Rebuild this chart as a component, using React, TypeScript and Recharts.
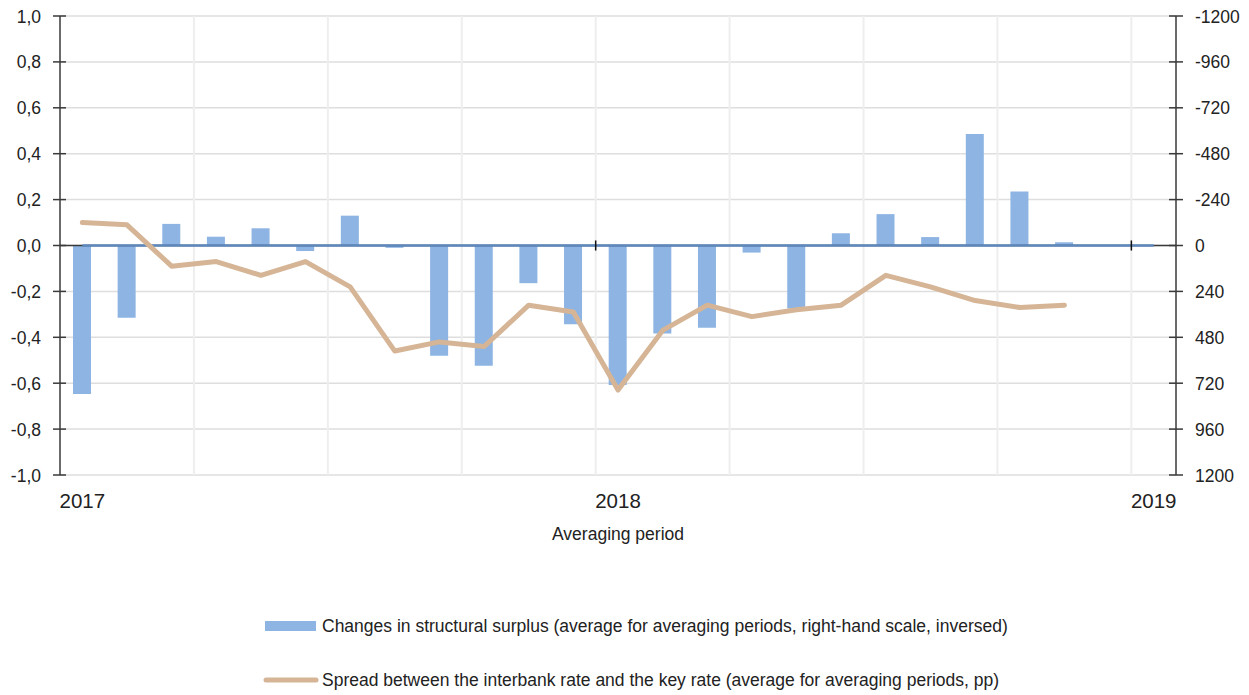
import React from "react";
import {
  ComposedChart, Bar, Line, XAxis, YAxis, CartesianGrid,
  ReferenceLine, Legend, Label,
} from "recharts";

const FONT = "'Liberation Sans', Arial, sans-serif";
const FS = 17.5;
const TEXT = "#222222";
const AXIS = "#3a3a3a";
const BAR_COLOR = "#8db4e2";
const LINE_COLOR = "#d5b596";
const ZERO_COLOR = "#5e89bd";

// averaging periods, 2017-01 .. 2019-01
const periods = [
  "2017-01", "2017-02", "2017-03", "2017-04", "2017-05", "2017-06",
  "2017-07", "2017-08", "2017-09", "2017-10", "2017-11", "2017-12",
  "2018-01", "2018-02", "2018-03", "2018-04", "2018-05", "2018-06",
  "2018-07", "2018-08", "2018-09", "2018-10", "2018-11", "2018-12",
  "2019-01",
];

// changes in structural surplus (right-hand scale, inversed)
const surplusChange = [
  776, 378, -113, -46, -90, 29, -156, 12, 576, 629, 197, 412,
  730, 460, 430, 37, 329, -64, -164, -44, -583, -283, -17, null, null,
];

// spread between interbank rate and key rate, pp (left scale)
const spread = [
  0.10, 0.09, -0.09, -0.07, -0.13, -0.07, -0.18, -0.46, -0.42, -0.44, -0.26, -0.29,
  -0.63, -0.37, -0.26, -0.31, -0.28, -0.26, -0.13, -0.18, -0.24, -0.27, -0.26, null, null,
];

const leftTicks = [-1, -0.8, -0.6, -0.4, -0.2, 0, 0.2, 0.4, 0.6, 0.8, 1];
const rightTicks = [-1200, -960, -720, -480, -240, 0, 240, 480, 720, 960, 1200];
// quarter boundaries (start of these periods)
const quarterStarts = ["2017-04", "2017-07", "2017-10", "2018-01", "2018-04", "2018-07", "2018-10", "2019-01"];
const yearStarts = ["2018-01", "2019-01"];

const SURPLUS_NAME = "Changes in structural surplus (average for averaging periods, right-hand scale, inversed)";
const SPREAD_NAME = "Spread between the interbank rate and the key rate (average for averaging periods, pp)";

const data = periods.map((p, i) => ({ period: p, surplus: surplusChange[i], spread: spread[i] }));

const fmtLeft = (v: number) => v.toFixed(1).replace(".", ",");

const LeftTick = (props: any) => {
  const { x, y, payload } = props;
  return (
    <g>
      <line x1={x - 7} x2={x + 6} y1={y} y2={y} stroke={AXIS} strokeWidth={1.5} />
      <text x={x - 19} y={y} dy={6.5} textAnchor="end" fontFamily={FONT} fontSize={FS} fill={TEXT}>
        {fmtLeft(payload.value)}
      </text>
    </g>
  );
};

const RightTick = (props: any) => {
  const { x, y, payload } = props;
  return (
    <g>
      <line x1={x - 7} x2={x + 7} y1={y} y2={y} stroke={AXIS} strokeWidth={1.5} />
      <text x={x + 19} y={y} dy={6.5} textAnchor="start" fontFamily={FONT} fontSize={FS} fill={TEXT}>
        {payload.value}
      </text>
    </g>
  );
};

const YearTick = (props: any) => {
  const { x, y, payload } = props;
  return (
    <text x={x} y={y} dy={12} textAnchor="middle" fontFamily={FONT} fontSize={20.5} fill={TEXT}>
      {String(payload.value).slice(0, 4)}
    </text>
  );
};

const quarterLines = ({ xAxis }: any) => {
  const s = xAxis?.scale;
  if (!s) return [];
  return quarterStarts.map((p) => (typeof s === "function" ? s(p) : s.map(p)));
};

const renderLegend = (props: any) => {
  const items = [...(props.payload ?? [])].sort((a: any) => (a.type === "rect" ? -1 : 1));
  return (
    <div style={{ position: "relative", height: 80, fontFamily: FONT, fontSize: FS, color: TEXT }}>
      {items.map((it: any, i: number) => (
        <div
          key={i}
          style={{
            position: "absolute", left: 263, top: i * 54, height: 24,
            display: "flex", alignItems: "center", whiteSpace: "nowrap",
          }}
        >
          <svg width={59} height={12} style={{ display: "block" }}>
            {it.type === "rect"
              ? <rect x={2} y={1} width={51} height={10} fill={BAR_COLOR} />
              : <line x1={3} x2={53} y1={6} y2={6} stroke={LINE_COLOR} strokeWidth={5} strokeLinecap="round" />}
          </svg>
          <span>{it.value}</span>
        </div>
      ))}
    </div>
  );
};

export default function App() {
  return (
    <div style={{ position: "absolute", left: 0, top: 0, width: 1249, height: 695, background: "#fff" }}>
      <ComposedChart width={1249} height={695} data={data} margin={{ top: 16, right: 0, left: 0, bottom: 0 }}>
        <CartesianGrid vertical={false} stroke="#dedede" strokeWidth={1.5} />
        <CartesianGrid
          horizontal={false}
          stroke="#eeeeee"
          strokeWidth={2}
          verticalCoordinatesGenerator={quarterLines}
        />
        <XAxis
          dataKey="period"
          height={220}
          interval={11}
          axisLine={false}
          tickLine={false}
          tickSize={6}
          tickMargin={15}
          tick={<YearTick />}
        >
          <Label
            content={(p: any) => {
              const vb = p.viewBox;
              return (
                <text x={vb.x + vb.width / 2} y={vb.y + 65} textAnchor="middle" fontFamily={FONT} fontSize={FS} fill={TEXT}>
                  Averaging period
                </text>
              );
            }}
          />
        </XAxis>
        <YAxis
          width={60}
          domain={[-1, 1]}
          ticks={leftTicks}
          interval={0}
          tickSize={0}
          tickMargin={0}
          tickLine={false}
          axisLine={{ stroke: AXIS, strokeWidth: 1.5 }}
          tick={<LeftTick />}
        />
        <YAxis
          yAxisId="right"
          orientation="right"
          width={73}
          reversed
          domain={[-1200, 1200]}
          ticks={rightTicks}
          interval={0}
          tickSize={0}
          tickMargin={0}
          tickLine={false}
          axisLine={{ stroke: AXIS, strokeWidth: 1.5 }}
          tick={<RightTick />}
        />
        <Bar
          yAxisId="right"
          dataKey="surplus"
          name={SURPLUS_NAME}
          fill={BAR_COLOR}
          barSize={18}
          legendType="rect"
          isAnimationActive={false}
        />
        <ReferenceLine y={0} stroke={AXIS} strokeWidth={1.5} />
        <ReferenceLine
          segment={[{ x: periods[0], y: 0 }, { x: periods[periods.length - 1], y: 0 }]}
          position="middle"
          stroke={ZERO_COLOR}
          strokeWidth={2.5}
        />
        {yearStarts.map((p) => (
          <ReferenceLine
            key={p}
            segment={[{ x: p, y: -0.022 }, { x: p, y: 0.022 }]}
            position="start"
            stroke="#111"
            strokeWidth={1.5}
          />
        ))}
        <Line
          dataKey="spread"
          name={SPREAD_NAME}
          stroke={LINE_COLOR}
          strokeWidth={5}
          strokeLinecap="round"
          strokeLinejoin="round"
          dot={false}
          activeDot={false}
          legendType="line"
          isAnimationActive={false}
        />
        <Legend
          layout="vertical"
          verticalAlign="middle"
          align="center"
          wrapperStyle={{ top: 614, left: 0, width: 1249 }}
          content={renderLegend}
        />
      </ComposedChart>
    </div>
  );
}
